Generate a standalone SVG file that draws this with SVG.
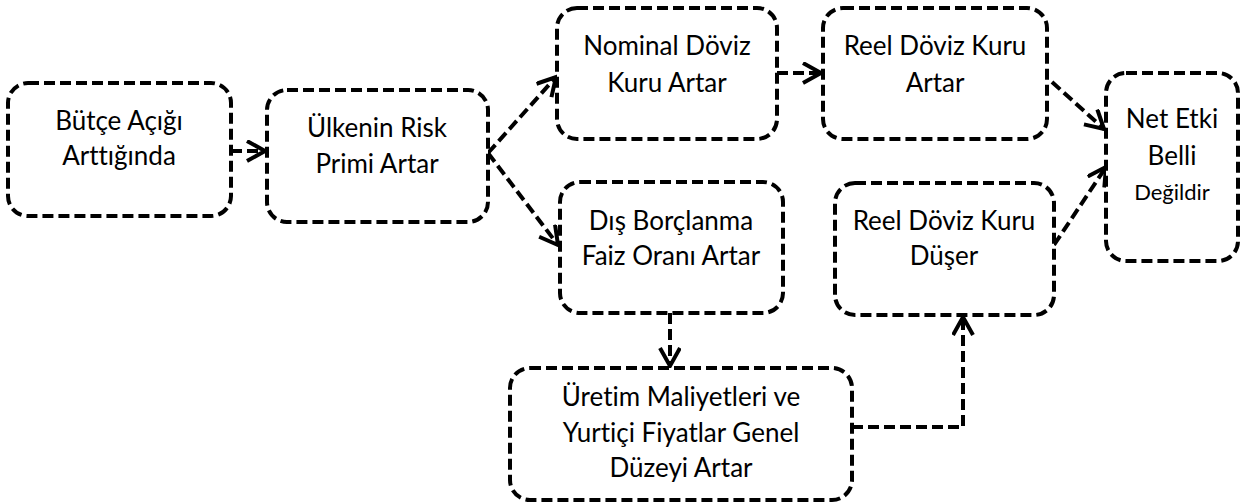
<svg xmlns="http://www.w3.org/2000/svg" width="1242" height="502" viewBox="0 0 1242 502">
<defs>
<marker id="arr" markerUnits="userSpaceOnUse" markerWidth="24" markerHeight="24" refX="19" refY="11" orient="auto">
<path d="M1,1 L19,11 L1,21" fill="none" stroke="#000" stroke-width="4" stroke-linejoin="miter"/>
</marker>
<style>
.box{fill:#fff;stroke:#000;stroke-width:4;stroke-dasharray:11 5}
.c{fill:none;stroke:#000;stroke-width:4;stroke-dasharray:11 5;marker-end:url(#arr)}
text{font-family:Lato,"Open Sans","Liberation Sans",sans-serif;font-size:26px;fill:#000;text-anchor:middle;font-variant-ligatures:none;font-feature-settings:"liga" 0,"clig" 0}
.sm{font-size:22px}
</style>
</defs>
<rect width="1242" height="502" fill="#fff"/>
<g id="connectors">
<path class="c" d="M231,151 L265,151"/>
<path class="c" d="M488,153 L556,77"/>
<path class="c" d="M488,153 L558,245"/>
<path class="c" d="M777,73 L821,73"/>
<path class="c" d="M1052,82 L1104,129"/>
<path class="c" d="M1054,245 L1106,167"/>
<path class="c" d="M670,313 L670,366"/>
<path class="c" d="M852,427 L963,427 L963,317"/>
</g>
<g id="n1"><rect class="box" x="8" y="83" width="223" height="133" rx="20"/>
<text x="119" y="130">Bütçe Açığı</text><text x="119" y="165">Arttığında</text></g>
<g id="n2"><rect class="box" x="267" y="90" width="221" height="132" rx="20"/>
<text x="377" y="137">Ülkenin Risk</text><text x="377" y="173">Primi Artar</text></g>
<g id="n3"><rect class="box" x="557" y="8" width="220" height="131" rx="20"/>
<text x="667" y="55">Nominal Döviz</text><text x="667" y="92">Kuru Artar</text></g>
<g id="n4"><rect class="box" x="823" y="8" width="224" height="131" rx="20"/>
<text x="935" y="55">Reel Döviz Kuru</text><text x="935" y="92">Artar</text></g>
<g id="n5"><rect class="box" x="1106" y="73" width="132" height="188" rx="20"/>
<text x="1172" y="128">Net Etki</text><text x="1172" y="165">Belli</text><text class="sm" x="1172" y="200">Değildir</text></g>
<g id="n6"><rect class="box" x="560" y="182" width="223" height="131" rx="20"/>
<text x="671" y="230">Dış Borçlanma</text><text x="671" y="265">Faiz Oranı Artar</text></g>
<g id="n7"><rect class="box" x="835" y="183" width="219" height="132" rx="20"/>
<text x="944" y="230">Reel Döviz Kuru</text><text x="944" y="265">Düşer</text></g>
<g id="n8"><rect class="box" x="510" y="368" width="342" height="132" rx="20"/>
<text x="681" y="406">Üretim Maliyetleri ve</text><text x="681" y="442">Yurtiçi Fiyatlar Genel</text><text x="681" y="477">Düzeyi Artar</text></g>
</svg>
